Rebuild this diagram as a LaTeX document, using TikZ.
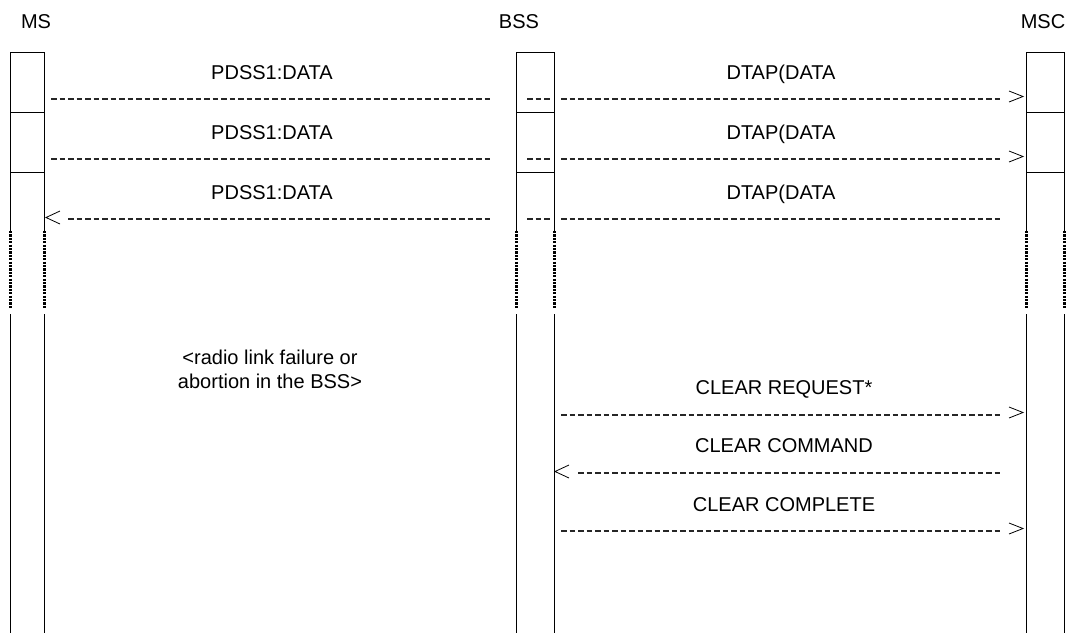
\documentclass[tikz,border=0pt]{standalone}
\usepackage{fontspec}
\setmainfont{Liberation Sans}
\begin{document}
\begin{tikzpicture}[x=1pt,y=-1pt,
  life/.style={line width=1pt,black},
  dots/.style={line width=2.2pt,black,dash pattern=on 2.2pt off 1.2pt},
  msg/.style={line width=1.3pt,black!85,dash pattern=on 5.8pt off 2.7pt},
  tip/.style={line width=0.8pt,black},
  lbl/.style={anchor=base,inner sep=0pt,font=\fontsize{20}{24}\selectfont}]
\useasboundingbox (0,0) rectangle (1069,633);
% headers
\node[lbl] (hms) at (36,28) {MS};
\node[lbl] (hbss) at (519,28) {BSS};
\node[lbl] (hmsc) at (1043,28) {MSC};
% lifelines
\foreach \x/\n in {10.5/a,44.5/b,516.5/c,554.5/d,1026.5/e,1064.5/f}{
  \coordinate (\n top) at (\x,52);
  \coordinate (\n d1) at (\x,231);
  \coordinate (\n d2) at (\x,309);
  \coordinate (\n s) at (\x,314);
  \coordinate (\n bot) at (\x,633);
  \draw[life] (\n top) -- (\n d1);
  \draw[dots] (\n d1) -- (\n d2);
  \draw[life] (\n s) -- (\n bot);
}
\foreach \l/\r in {a/b,c/d,e/f}{
  \foreach \y in {52,112,172}{
    \draw[life] (\l top |- 0,\y) -- (\r top |- 0,\y);
  }
}
% data rows
\foreach \y/\k in {99/1,159/2,219/3}{
  \coordinate (L\k) at (51,\y);
  \coordinate (M\k) at (490,\y);
  \coordinate (B\k a) at (527,\y);
  \coordinate (B\k b) at (551,\y);
  \coordinate (R\k a) at (561,\y);
  \coordinate (R\k b) at (1000,\y);
  \draw[msg] (B\k a) -- (B\k b);
  \draw[msg] (R\k a) -- (R\k b);
}
\draw[msg] (L1) -- (M1);
\draw[msg] (L2) -- (M2);
\draw[msg] (68,219) coordinate (L3b) -- (M3);
\node[lbl] (p1) at (272,79) {PDSS1:DATA};
\node[lbl] (p2) at (272,139) {PDSS1:DATA};
\node[lbl] (p3) at (272,199) {PDSS1:DATA};
\node[lbl] (d1) at (781,79) {DTAP(DATA};
\node[lbl] (d2) at (781,139) {DTAP(DATA};
\node[lbl] (d3) at (781,199) {DTAP(DATA};
% arrowheads
\draw[tip] (1009,91) -- (1023,96.5) -- (1009,102);
\draw[tip] (1009,151) -- (1023,156.5) -- (1009,162);
\draw[tip] (60,211) -- (46,217.5) -- (60,224);
% radio link
\node[lbl] (r1) at (270,364) {<radio link failure or};
\node[lbl] (r2) at (270,388) {abortion in the BSS>};
% clear messages
\coordinate (c1a) at (561,415); \coordinate (c1b) at (1000,415);
\coordinate (c2a) at (578,473); \coordinate (c2b) at (1000,473);
\coordinate (c3a) at (561,531); \coordinate (c3b) at (1000,531);
\draw[msg] (c1a) -- (c1b);
\draw[msg] (c2a) -- (c2b);
\draw[msg] (c3a) -- (c3b);
\draw[tip] (1009,407) -- (1023,412.5) -- (1009,418);
\draw[tip] (569,465) -- (555,471.5) -- (569,478);
\draw[tip] (1009,523) -- (1023,528.5) -- (1009,534);
\node[lbl] (q1) at (784,394) {CLEAR REQUEST*};
\node[lbl] (q2) at (784,452) {CLEAR COMMAND};
\node[lbl] (q3) at (784,511) {CLEAR COMPLETE};
\end{tikzpicture}
\end{document}
